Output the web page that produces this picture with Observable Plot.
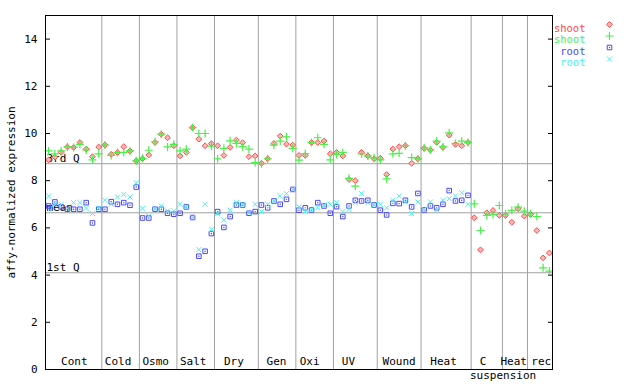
<!DOCTYPE html>
<html>
<head>
<meta charset="utf-8">
<script src="https://cdn.jsdelivr.net/npm/d3@7"></script>
<script src="https://cdn.jsdelivr.net/npm/@observablehq/plot@0.6"></script>
<style>
  html, body { margin: 0; padding: 0; background: #fff; }
  #chart { width: 640px; height: 384px; }
</style>
</head>
<body>
<div id="chart"></div>
<script>
// shoot replicate 1 (red diamonds), index 0..80
const shootRep1 = [
  8.88, 9.00, 9.20, 9.43, 9.41, 9.62, 9.34, 9.02, 9.43,
  9.51, 9.12, 9.19, 9.44, 9.26, 8.84,
  8.93, 9.09, 9.62, 9.97, 9.82, 9.48,
  9.05, 9.20, 10.25, 9.76, 9.48, 9.57,
  9.48, 9.07, 9.41, 9.72, 9.61, 9.02, 9.05,
  8.74, 8.93, 9.58, 9.89, 9.55, 9.51,
  9.07, 9.07, 9.62, 9.62, 9.68, 9.14,
  9.20, 9.05, 8.05, 8.00, 9.20, 9.05, 8.93,
  8.95, 8.26, 9.34, 9.44, 9.48, 8.74, 8.93,
  9.37, 9.30, 9.62, 9.41, 9.93, 9.54, 9.48, 9.62,
  6.43, 5.07, 6.64, 6.74, 6.53,
  6.53, 6.24, 6.81, 6.50,
  6.57, 5.89, 4.73, 4.94
];
// shoot replicate 2 (green plus)
const shootRep2 = [
  9.26, 9.14, 9.26, 9.43, 9.41, 9.54, 9.30, 8.88, 9.14,
  9.51, 9.07, 9.19, 9.20, 9.26, 8.84,
  8.95, 9.29, 9.65, 9.97, 9.43, 9.54,
  9.26, 9.34, 10.25, 10.00, 10.00, 9.46,
  8.93, 9.37, 9.69, 9.58, 9.44, 9.34, 8.77,
  8.72, 8.93, 9.51, 9.68, 9.86, 9.37,
  8.87, 9.15, 9.62, 9.82, 9.54, 8.88,
  9.11, 9.20, 8.10, 7.77, 9.14, 9.05, 8.97,
  8.88, 8.08, 9.14, 9.16, 9.48, 8.98, 8.93,
  9.40, 9.30, 9.68, 9.44, 10.03, 9.58, 9.68, 9.62,
  7.02, 5.89, 6.53, 6.57, 6.95,
  6.59, 6.74, 6.88, 6.71,
  6.60, 6.48, 4.31, 4.17
];
// root replicate 1 (blue squares), index 0..67
const rootRep1 = [
  6.93, 7.10, 6.89, 6.79, 6.79, 6.79, 7.07, 6.21, 6.79,
  6.79, 7.11, 7.00, 7.07, 6.96, 7.73,
  6.42, 6.42, 6.79, 6.79, 6.62, 6.58,
  6.62, 6.89, 6.44, 4.80, 5.01, 5.76,
  6.69, 6.02, 6.48, 6.97, 6.97, 6.62, 6.69,
  6.97, 6.85, 7.14, 7.00, 7.21, 7.63,
  6.75, 6.85, 6.76, 7.07, 6.93, 6.62,
  6.90, 6.48, 6.93, 7.17, 7.14, 7.17, 6.97,
  6.75, 6.55, 7.04, 7.03, 7.17, 6.89, 7.46,
  6.76, 6.93, 6.85, 7.00, 7.58, 7.14, 7.17, 7.38
];
// root replicate 2 (cyan crosses)
const rootRep2 = [
  7.35, 7.00, 7.00, 6.83, 7.07, 7.07, 6.83, 6.61, 6.83,
  7.17, 7.00, 7.31, 7.42, 7.31, 7.91,
  6.83, 6.51, 6.79, 6.93, 6.72, 6.72,
  7.00, 6.89, 6.44, 5.08, 7.00, 5.93,
  6.60, 6.33, 6.75, 7.07, 7.00, 6.62, 7.00,
  6.69, 7.00, 7.14, 7.35, 7.45, 7.63,
  6.89, 6.69, 6.79, 6.86, 6.97, 7.00,
  7.07, 6.69, 6.79, 7.07, 7.45, 7.07, 6.97,
  7.00, 6.85, 7.17, 7.35, 7.10, 6.61, 7.10,
  6.79, 7.10, 6.76, 7.17, 7.24, 7.35, 7.49, 7.00
];

const groupLabels = ["Cont", "Cold", "Osmo", "Salt", "Dry", "Gen", "Oxi", "UV", "Wound", "Heat", "C", "Heat", "rec"];
const groupLabelPos = [4.1, 11.1, 17.1, 23.1, 29.6, 36.4, 41.7, 47.9, 56.0, 63.1, 69.4, 74.3, 78.7];
const subLabel = ["suspension"];
const subLabelPos = [72.6];
const separators = [8.5, 14.5, 20.5, 26.5, 33.5, 39.5, 45.5, 52.5, 59.5, 67.5, 72.5, 76.5];
const statLabels = ["3rd Q", "mean", "1st Q"];
const statValues = [8.72, 6.64, 4.10];
const yTicks = [0, 2, 4, 6, 8, 10, 12, 14];
const legendNames = ["shoot", "shoot", "root", "root"];
const colors = ["#ff4848", "#48f048", "#4848ff", "#48f0f0"];
const yLabel = "affy-normalized expression";

const xOf = (d, i) => i;
const yOf = d => d;
const gray = "#a0a0a0";

// symbol styles
const sDiamond = {symbol: "diamond2", r: 2.6, fill: "#ffb8b8", stroke: colors[0], strokeWidth: 1};
const sPlus = {symbol: "plus", r: 2.7, stroke: colors[1], strokeWidth: 1.2};
const sSquare = {symbol: "square2", r: 2.9, stroke: colors[2], strokeWidth: 1};
const sDot = {r: 0.7, fill: colors[2]};
const sTimes = {symbol: "times", r: 2.4, stroke: colors[3], strokeWidth: 1};

const legendDy = [9, 20.5, 32, 43.5];
const legendMarks = [];
legendNames.forEach((name, k) => {
  legendMarks.push(Plot.text([name], {
    frameAnchor: "top-right", dx: 33, dy: legendDy[k],
    textAnchor: "end", fill: colors[k], fontSize: 10.5
  }));
});
legendMarks.push(Plot.dot([0], {frameAnchor: "top-right", dx: 57, dy: legendDy[0], ...sDiamond}));
legendMarks.push(Plot.dot([0], {frameAnchor: "top-right", dx: 57, dy: legendDy[1], ...sPlus}));
legendMarks.push(Plot.dot([0], {frameAnchor: "top-right", dx: 57, dy: legendDy[2], ...sSquare}));
legendMarks.push(Plot.dot([0], {frameAnchor: "top-right", dx: 57, dy: legendDy[2], ...sDot}));
legendMarks.push(Plot.dot([0], {frameAnchor: "top-right", dx: 57, dy: legendDy[3], ...sTimes}));

const chart = Plot.plot({
  width: 640,
  height: 384,
  marginLeft: 45,
  marginRight: 88,
  marginTop: 15,
  marginBottom: 15,
  style: {fontFamily: "'DejaVu Sans Mono', monospace", fontSize: "11px", background: "#fff", color: "#000"},
  x: {domain: [-0.5, 80.5], axis: null},
  y: {domain: [0, 15], axis: null},
  marks: [
    Plot.ruleX(separators, {stroke: gray, strokeWidth: 1}),
    Plot.ruleY(statValues, {stroke: gray, strokeWidth: 1}),
    Plot.axisY(yTicks, {anchor: "left", tickSize: 0, tickPadding: 8, fontSize: 11,
      label: yLabel, labelAnchor: "center", labelOffset: 38, labelArrow: "none"}),
    Plot.axisY(yTicks, {anchor: "left", tickSize: -5, tickFormat: () => "", label: null}),
    Plot.axisY(yTicks, {anchor: "right", tickSize: -5, tickFormat: () => "", label: null}),
    Plot.text(statLabels, {y: (d, i) => statValues[i], frameAnchor: "left", dx: 1, dy: -5, textAnchor: "start", fill: "#000"}),
    Plot.text(groupLabels, {x: (d, i) => groupLabelPos[i], frameAnchor: "bottom", dy: -5, fill: "#000"}),
    Plot.text(subLabel, {x: (d, i) => subLabelPos[i], frameAnchor: "bottom", dy: 9, fill: "#000"}),
    Plot.dot(shootRep1, {x: xOf, y: yOf, ...sDiamond}),
    Plot.dot(shootRep2, {x: xOf, y: yOf, ...sPlus}),
    Plot.dot(rootRep1, {x: xOf, y: yOf, ...sSquare}),
    Plot.dot(rootRep1, {x: xOf, y: yOf, ...sDot}),
    Plot.dot(rootRep2, {x: xOf, y: yOf, ...sTimes}),
    Plot.frame({stroke: "#000", strokeWidth: 1}),
    ...legendMarks
  ]
});
document.getElementById("chart").appendChild(chart);
</script>
</body>
</html>
